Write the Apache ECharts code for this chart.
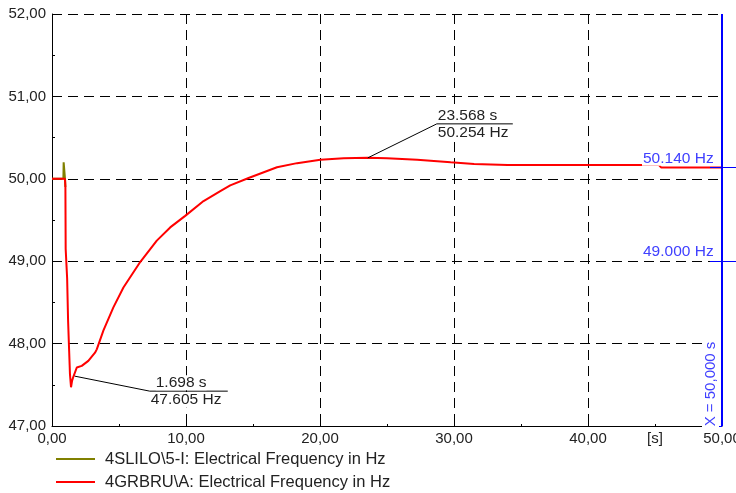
<!DOCTYPE html>
<html><head><meta charset="utf-8">
<script src="https://cdn.jsdelivr.net/npm/echarts@6/dist/echarts.min.js"></script>
<style>html,body{margin:0;padding:0;background:#fff}#c{width:736px;height:493px}</style>
</head><body><div id="c"></div>
<script>
// ---- data ----
const seriesNames = ['4SLILO\\5-I: Electrical Frequency in Hz', '4GRBRU\\A: Electrical Frequency in Hz'];
const oliveT = [0, 0.85, 0.87, 0.95, 0.97, 1.0];
const oliveF = [50.0, 50.0, 50.2, 50.2, 50.0, 49.9];
const redT = [0, 0.97, 1.0, 1.02, 1.13, 1.2, 1.28, 1.34, 1.42, 1.5, 1.6, 1.85, 2.22, 2.71, 3.21, 3.34, 3.84, 4.58, 5.33, 6.58, 7.82, 8.82, 9.94, 11.31, 12.56, 13.3, 14.67, 16.79, 18.29, 20.03, 21.77, 23.568, 25.0, 27.25, 29.75, 31.5, 34.0, 44.0, 45.3, 45.45, 50.0];
const redF = [50.0, 50.0, 49.9, 49.15, 48.79, 48.28, 47.91, 47.63, 47.47, 47.55, 47.6, 47.71, 47.73, 47.79, 47.89, 47.93, 48.16, 48.44, 48.68, 48.99, 49.25, 49.41, 49.55, 49.73, 49.85, 49.92, 50.01, 50.14, 50.19, 50.23, 50.25, 50.254, 50.25, 50.23, 50.2, 50.18, 50.166, 50.166, 50.166, 50.138, 50.138];
const xTickLabels = {0: '0,00', 10: '10,00', 20: '20,00', 30: '30,00', 40: '40,00', 45: '[s]', 50: '50,00'};
const annotations = [
  {t: 1.698, f: 47.605, l1: '1.698 s', l2: '47.605 Hz'},
  {t: 23.568, f: 50.254, l1: '23.568 s', l2: '50.254 Hz'}
];
const cursorX = 50;
const cursorLabel = 'X = 50,000 s';
const levelLines = [{f: 50.14, label: '50.140 Hz'}, {f: 49.0, label: '49.000 Hz'}];

const FONT = '"Liberation Sans", Arial, sans-serif';
const zip = (a, b) => a.map((v, i) => [v, b[i]]);
const dash = {color: '#000', width: 1, type: [10, 6]};

const chart = echarts.init(document.getElementById('c'), null, {renderer: 'canvas'});
chart.setOption({
  animation: false,
  backgroundColor: '#fff',
  grid: {left: 52, right: 14, top: 14, bottom: 67, containLabel: false, outerBoundsMode: 'none'},
  legend: {
    orient: 'vertical', left: 51, top: 444, itemGap: 3, height: 48,
    icon: 'rect', itemWidth: 39, itemHeight: 2,
    textStyle: {fontFamily: FONT, fontSize: 16.5, lineHeight: 20, color: '#222', padding: [0, 0, 0, 5]},
    data: seriesNames
  },
  xAxis: {
    type: 'value', min: 0, max: 50, interval: 10,
    axisLine: {lineStyle: {color: '#000', width: 1}},
    axisTick: {show: true, inside: true, length: 4, lineStyle: {color: '#000'}},
    minorTick: {show: true, splitNumber: 2, length: 2, lineStyle: {color: '#000'}},
    axisLabel: {
      customValues: Object.keys(xTickLabels).map(Number), hideOverlap: false,
      formatter: v => xTickLabels[v] || '', fontFamily: FONT, fontSize: 15, color: '#222', margin: 5
    },
    splitLine: {show: true, lineStyle: dash}
  },
  yAxis: {
    type: 'value', min: 47, max: 52, interval: 1,
    axisLine: {show: true, lineStyle: {color: '#000', width: 1}},
    axisTick: {show: true, inside: true, length: 3, lineStyle: {color: '#000'}},
    minorTick: {show: true, splitNumber: 2, length: 3, lineStyle: {color: '#000'}},
    axisLabel: {formatter: v => v.toFixed(2).replace('.', ','), fontFamily: FONT, fontSize: 15, color: '#222', margin: 6},
    splitLine: {show: true, lineStyle: dash}
  },
  series: [
    {name: seriesNames[0], type: 'line', data: zip(oliveT, oliveF), showSymbol: false, color: '#808000',
     lineStyle: {width: 2, color: '#808000'}, z: 2},
    {name: seriesNames[1], type: 'line', data: zip(redT, redF), showSymbol: false, color: '#ff0000',
     lineStyle: {width: 2, color: '#ff0000'}, z: 3,
     markLine: {silent: true, symbol: 'none', label: {show: false},
       lineStyle: {color: '#0000ff', width: 2, type: 'solid'}, data: [{xAxis: cursorX}]}}
  ]
});

// ---- overlays positioned via the chart's scales ----
const px = (x, y) => chart.convertToPixel({gridIndex: 0}, [x, y]);
const g = [];
const txt = {fontFamily: FONT, fontSize: 15.5, fill: '#222', backgroundColor: '#fff', lineHeight: 15};
annotations.forEach((a, i) => {
  const p = px(a.t, a.f);
  const dx = i === 0 ? 75 : 69, dy = i === 0 ? 15 : -34, len = i === 0 ? 78 : 76;
  const cx = p[0] + dx, cy = p[1] + dy;
  g.push({type: 'polyline', z: 50, shape: {points: [[p[0], p[1]], [cx, cy], [cx + len, cy]]},
    style: {stroke: '#000', lineWidth: 1, fill: null}});
  g.push({type: 'text', z: 51, x: cx + (i === 0 ? 6 : 1), y: cy - 1,
    style: Object.assign({text: a.l1, verticalAlign: 'bottom'}, txt)});
  g.push({type: 'text', z: 51, x: cx + 1, y: cy + 1.5,
    style: Object.assign({text: a.l2, verticalAlign: 'top'}, txt)});
});
const xr = px(cursorX, 47);
levelLines.forEach(l => {
  const y = px(cursorX, l.f)[1];
  g.push({type: 'text', z: 60, x: 642, y: y - (l.f > 50 ? 1.5 : 2),
    style: {text: l.label, fontFamily: FONT, fontSize: 15.5, fill: '#4040ff', verticalAlign: 'bottom',
      backgroundColor: '#fff', lineHeight: 15, padding: [0, 1, 0, 1]}});
  g.push({type: 'line', z: 61, shape: {x1: xr[0] - 12, y1: Math.round(y) + 0.5, x2: 736, y2: Math.round(y) + 0.5},
    style: {stroke: '#0000ff', lineWidth: 1}});
});
g.push({type: 'text', z: 60, x: xr[0] - 11, y: xr[1] - 42, rotation: Math.PI / 2,
  style: {text: cursorLabel, fontFamily: FONT, fontSize: 15, fill: '#4040ff', align: 'center', verticalAlign: 'middle',
    backgroundColor: '#fff', padding: [0, 2, 3, 2]}});
g.push({type: 'line', z: 61, shape: {x1: xr[0] - 3, y1: xr[1] + 0.5, x2: xr[0], y2: xr[1] + 0.5},
  style: {stroke: '#0000ff', lineWidth: 1}});
chart.setOption({graphic: g});
</script></body></html>
